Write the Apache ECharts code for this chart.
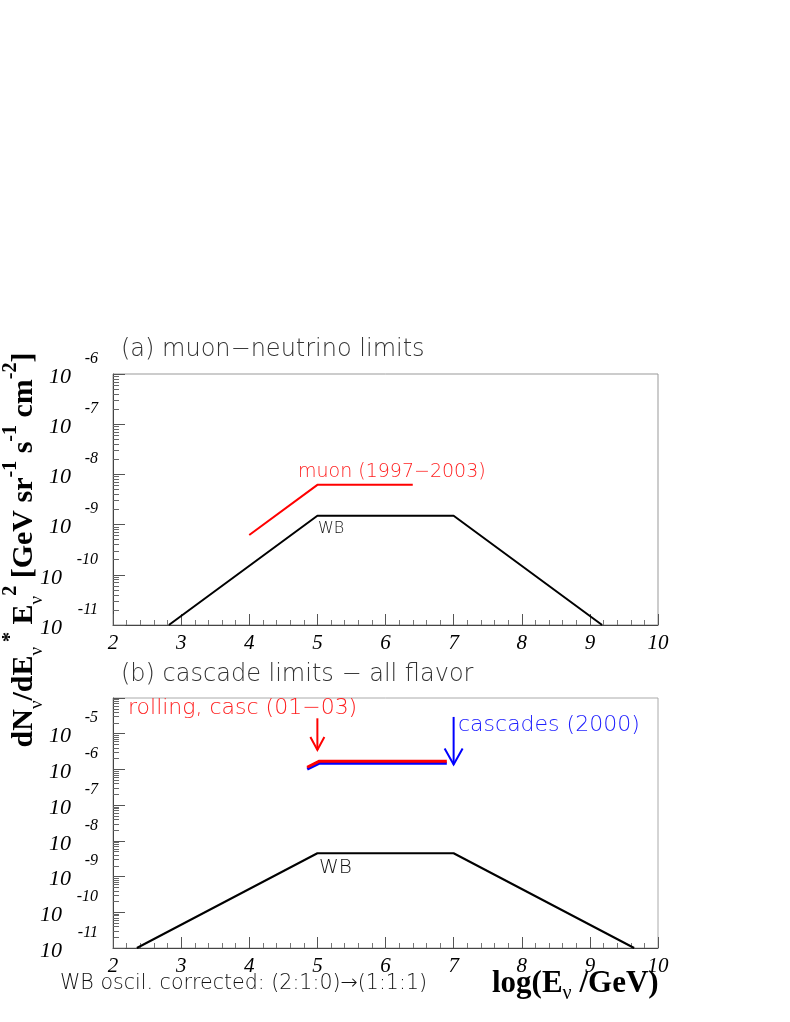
<!DOCTYPE html>
<html>
<head>
<meta charset="utf-8">
<script src="https://cdn.jsdelivr.net/npm/echarts@6/dist/echarts.min.js"></script>
<style>
  html, body { margin: 0; padding: 0; background: #fff; }
  #chart { width: 790px; height: 1022px; }
</style>
</head>
<body>
<div id="chart"></div>
<script>
// x: log10(E / GeV), y: E^2 dN/dE [GeV sr^-1 s^-1 cm^-2]
var xTicks = [2, 3, 4, 5, 6, 7, 8, 9, 10];
var yDecadesA = [-11, -10, -9, -8, -7, -6];
var yDecadesB = [-11, -10, -9, -8, -7, -6, -5];

// (a) muon-neutrino limits
var wbMuonX = [2.82, 5, 7, 9.18];
var wbMuonY = [1e-11, 1.5e-9, 1.5e-9, 1e-11];
var muonX = [4, 5, 6.4];
var muonY = [6.2e-10, 6.2e-9, 6.2e-9];

// (b) cascade limits - all flavor
var wbAllX = [2.35, 5, 7, 9.65];
var wbAllY = [1e-11, 4.5e-9, 4.5e-9, 1e-11];
var cascX = [4.85, 5.03, 6.9];
var casc2000Y = [1.02e-6, 1.5e-6, 1.5e-6];
var rollingY = [1.15e-6, 1.7e-6, 1.7e-6];

// arrows: [x, y of tail, y of tip]
var rollingArrow = [5, 2.7e-5, 3.5e-6];
var casc2000Arrow = [7, 2.95e-5, 1.38e-6];

var serif = "'Liberation Serif', 'DejaVu Serif', serif";
var thin = "'DejaVu Sans', sans-serif";

function toLog(xs, ys) {
  return xs.map(function(x, i) { return [x, Math.log10(ys[i])]; });
}

function minorLogTicks(lo, hi) {
  var out = [];
  for (var n = lo; n < hi; n++) {
    for (var k = 2; k <= 9; k++) out.push(n + Math.log10(k));
  }
  return out;
}

function xAxisFor(gridIndex) {
  return {
    type: "value",
    gridIndex: gridIndex,
    position: "bottom",
    min: 2,
    max: 10,
    interval: 1,
    axisLine: { show: true, lineStyle: { color: "#444", width: 1 } },
    axisTick: { inside: true, length: 11, lineStyle: { color: "#555" } },
    minorTick: { show: true, splitNumber: 5, length: 5, lineStyle: { color: "#777" } },
    splitLine: { show: false },
    axisLabel: {
      margin: 8,
      fontFamily: serif,
      fontStyle: "italic",
      fontSize: 21,
      color: "#000",
      formatter: function(v) { return xTicks.indexOf(v) >= 0 ? String(v) : ""; }
    }
  };
}

// major decade ticks + the "10" of each label
function yMajor(gridIndex, min, max, decades) {
  return {
    type: "value",
    gridIndex: gridIndex,
    position: "left",
    min: min,
    max: max,
    interval: 1,
    axisLine: { show: true, lineStyle: { color: "#444", width: 1 } },
    axisTick: { inside: true, length: 12, lineStyle: { color: "#555" } },
    splitLine: { show: false },
    axisLabel: {
      margin: 15,
      customValues: decades,
      showMinLabel: true,
      formatter: function(v) { return String(Math.round(v)).length > 2 ? "{w|10}" : "{n|10}"; },
      rich: {
        n: { fontFamily: serif, fontStyle: "italic", fontSize: 22, lineHeight: 24, color: "#000", padding: [6, 27, 0, 0] },
        w: { fontFamily: serif, fontStyle: "italic", fontSize: 22, lineHeight: 24, color: "#000", padding: [6, 36, 0, 0] }
      }
    }
  };
}

// minor log ticks + the exponent of each label
function yMinor(gridIndex, min, max, decades) {
  return {
    type: "value",
    gridIndex: gridIndex,
    position: "left",
    offset: 0,
    min: min,
    max: max,
    axisLine: { show: false },
    axisTick: { inside: true, length: 6, customValues: minorLogTicks(min, max), lineStyle: { color: "#666" } },
    axisLabel: {
      margin: 15,
      customValues: decades,
      showMinLabel: true,
      verticalAlign: "bottom",
      lineHeight: 31,
      fontFamily: serif,
      fontStyle: "italic",
      fontSize: 16,
      color: "#000",
      formatter: function(v) { return String(Math.round(v)); }
    },
    splitLine: { show: false }
  };
}

function line(xi, yi, data, color, width) {
  return {
    type: "line",
    xAxisIndex: xi,
    yAxisIndex: yi,
    data: data,
    symbol: "none",
    silent: true,
    lineStyle: { color: color, width: width },
    itemStyle: { color: color }
  };
}

function arrow(arrowData, color, headW, headH) {
  return {
    type: "custom",
    xAxisIndex: 1,
    yAxisIndex: 2,
    silent: true,
    data: [[arrowData[0], Math.log10(arrowData[1]), Math.log10(arrowData[2])]],
    renderItem: function(params, api) {
      var tail = api.coord([api.value(0), api.value(1)]);
      var tip = api.coord([api.value(0), api.value(2)]);
      return {
        type: "group",
        children: [
          { type: "line", shape: { x1: tail[0], y1: tail[1], x2: tip[0], y2: tip[1] }, style: { stroke: color, lineWidth: 2 } },
          { type: "polyline", shape: { points: [[tip[0] - headW, tip[1] - headH], tip, [tip[0] + headW, tip[1] - headH]] }, style: { stroke: color, fill: null, lineWidth: 2 } }
        ]
      };
    }
  };
}

var chart = echarts.init(document.getElementById("chart"), null, { renderer: "canvas" });

chart.setOption({
  animation: false,
  backgroundColor: "#fff",
  grid: [
    { left: 113, top: 374, width: 545, height: 251, show: true, borderColor: "#999", borderWidth: 1, backgroundColor: "transparent" },
    { left: 113, top: 698, width: 545, height: 250, show: true, borderColor: "#aaa", borderWidth: 1, backgroundColor: "transparent" }
  ],
  xAxis: [xAxisFor(0), xAxisFor(1)],
  yAxis: [
    yMajor(0, -11, -6, yDecadesA),
    yMinor(0, -11, -6, yDecadesA),
    yMajor(1, -11, -4, yDecadesB),
    yMinor(1, -11, -4, yDecadesB)
  ],
  series: [
    line(0, 0, toLog(wbMuonX, wbMuonY), "#000", 2),
    line(0, 0, toLog(muonX, muonY), "#ff0000", 2),
    line(1, 2, toLog(wbAllX, wbAllY), "#000", 2),
    line(1, 2, toLog(cascX, casc2000Y), "#0000ff", 3),
    line(1, 2, toLog(cascX, rollingY), "#ff0000", 3),
    arrow(rollingArrow, "#ff0000", 7, 13),
    arrow(casc2000Arrow, "#0000ff", 9, 16)
  ],
  graphic: [
    { type: "text", left: 121, top: 338, style: { text: "(a) muon\u2212neutrino limits", font: "200 24px " + thin, fill: "#333" } },
    { type: "text", left: 121, top: 663, style: { text: "(b) cascade limits \u2212 all flavor", font: "200 24px " + thin, fill: "#333" } },
    { type: "text", left: 298, top: 463, style: { text: "muon (1997\u22122003)", font: "200 19px " + thin, fill: "#ff2020" } },
    { type: "text", left: 318, top: 521, style: { text: "WB", font: "200 16px " + thin, fill: "#111" } },
    { type: "text", left: 128, top: 697, style: { text: "rolling, casc (01\u221203)", font: "200 22px " + thin, fill: "#ff2020" } },
    { type: "text", left: 458, top: 714, style: { text: "cascades (2000)", font: "200 22px " + thin, fill: "#2020ff" } },
    { type: "text", left: 319, top: 858, style: { text: "WB", font: "200 20px " + thin, fill: "#111" } },
    { type: "text", left: 60, top: 973, style: { text: "WB oscil. corrected: (2:1:0)\u2192(1:1:1)", font: "200 20.6px " + thin, fill: "#111" } },
    {
      type: "text", left: 492, top: 968,
      style: {
        text: "{m|log(E}{s|\u03bd}{m| /GeV)}",
        rich: {
          m: { fontFamily: serif, fontWeight: "bold", fontSize: 31, lineHeight: 40, verticalAlign: "middle", fill: "#000" },
          s: { fontFamily: serif, fontSize: 20, lineHeight: 20, verticalAlign: "bottom", fill: "#000" }
        }
      }
    },
    {
      type: "text", x: 24, y: 550, rotation: Math.PI / 2,
      style: {
        align: "center",
        verticalAlign: "middle",
        text: "{m|dN}{s|\u03bd}{m|/dE}{s|\u03bd}{p| *}{m| E}{s|\u03bd}{p|2}{m| [GeV sr}{p|-1}{m| s}{p|-1}{m| cm}{p|-2}{m|]}",
        rich: {
          m: { fontFamily: serif, fontWeight: "bold", fontSize: 30, lineHeight: 46, verticalAlign: "middle", fill: "#000" },
          s: { fontFamily: serif, fontSize: 19, lineHeight: 19, verticalAlign: "bottom", fill: "#000" },
          p: { fontFamily: serif, fontWeight: "bold", fontSize: 20, lineHeight: 20, verticalAlign: "top", fill: "#000" }
        }
      }
    }
  ]
});
</script>
</body>
</html>
